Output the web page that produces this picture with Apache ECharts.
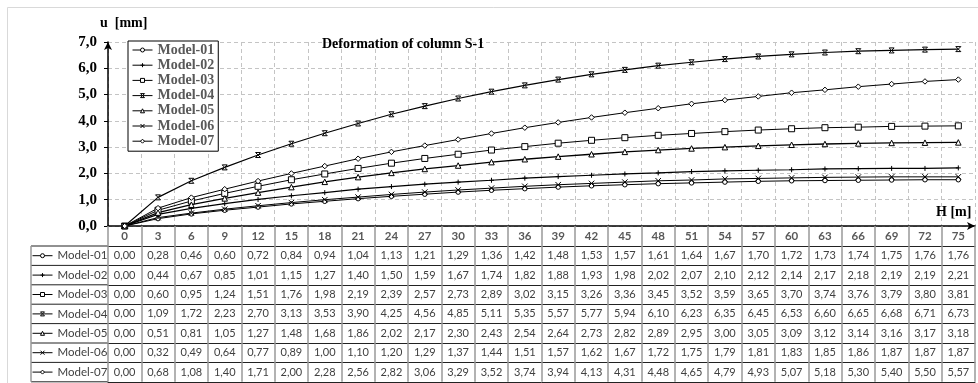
<!DOCTYPE html>
<html><head><meta charset="utf-8">
<script src="https://cdn.jsdelivr.net/npm/echarts@6/dist/echarts.min.js"></script>
<style>html,body{margin:0;padding:0;background:#fff}#c{width:978px;height:383px}</style>
</head><body><div id="c"></div>
<script>
// ---- data ----
const heights = [0,3,6,9,12,15,18,21,24,27,30,33,36,39,42,45,48,51,54,57,60,63,66,69,72,75];
const model01 = [0.00,0.28,0.46,0.60,0.72,0.84,0.94,1.04,1.13,1.21,1.29,1.36,1.42,1.48,1.53,1.57,1.61,1.64,1.67,1.70,1.72,1.73,1.74,1.75,1.76,1.76];
const model02 = [0.00,0.44,0.67,0.85,1.01,1.15,1.27,1.40,1.50,1.59,1.67,1.74,1.82,1.88,1.93,1.98,2.02,2.07,2.10,2.12,2.14,2.17,2.18,2.19,2.19,2.21];
const model03 = [0.00,0.60,0.95,1.24,1.51,1.76,1.98,2.19,2.39,2.57,2.73,2.89,3.02,3.15,3.26,3.36,3.45,3.52,3.59,3.65,3.70,3.74,3.76,3.79,3.80,3.81];
const model04 = [0.00,1.09,1.72,2.23,2.70,3.13,3.53,3.90,4.25,4.56,4.85,5.11,5.35,5.57,5.77,5.94,6.10,6.23,6.35,6.45,6.53,6.60,6.65,6.68,6.71,6.73];
const model05 = [0.00,0.51,0.81,1.05,1.27,1.48,1.68,1.86,2.02,2.17,2.30,2.43,2.54,2.64,2.73,2.82,2.89,2.95,3.00,3.05,3.09,3.12,3.14,3.16,3.17,3.18];
const model06 = [0.00,0.32,0.49,0.64,0.77,0.89,1.00,1.10,1.20,1.29,1.37,1.44,1.51,1.57,1.62,1.67,1.72,1.75,1.79,1.81,1.83,1.85,1.86,1.87,1.87,1.87];
const model07 = [0.00,0.68,1.08,1.40,1.71,2.00,2.28,2.56,2.82,3.06,3.29,3.52,3.74,3.94,4.13,4.31,4.48,4.65,4.79,4.93,5.07,5.18,5.30,5.40,5.50,5.57];
const names = ['Model-01','Model-02','Model-03','Model-04','Model-05','Model-06','Model-07'];
const values = [model01, model02, model03, model04, model05, model06, model07];
const yTicks = [0,1,2,3,4,5,6,7];

// ---- styles / layout ----
const symbols = ['circle','path://M0,5L10,5M5,0L5,10','rect','path://M0,0L10,0L0,10L10,10Z','triangle','path://M0,0L10,10M10,0L0,10','diamond'];
const symbolSizes = [4.5,5,6,5,5.5,5.5,5.5];
const lineWidths = [1,1.2,1,1.2,1.3,1,1];
const GRID_LEFT = 108, GRID_TOP = 42, GRID_W = 867, GRID_H = 184;
const HEAD_H = 20, ROW_H = 19.4, TABLE_LEFT = 31;
const SERIF = 'Liberation Serif';
const fmt2 = v => v.toFixed(2).replace('.', ',');
const fmt1 = v => v.toFixed(1).replace('.', ',');

const xAxes = [{
  type:'category', data: heights.map(String), gridIndex:0, position:'bottom', boundaryGap:true,
  axisLine:{show:true, lineStyle:{color:'#000', width:1.5}, symbol:['none','arrow'], symbolSize:[6,8]},
  axisTick:{show:true, interval:0, length:HEAD_H, lineStyle:{color:'#999', width:1.5}},
  axisLabel:{interval:0, margin:HEAD_H/2, verticalAlign:'middle', color:'#595959', fontFamily:'Lato', fontWeight:'bold', fontSize:11.5},
  splitLine:{show:true, interval:0, lineStyle:{color:'#c4c4c4', width:1, type:[4,3]}}
}];
values.forEach((row, k) => {
  xAxes.push({
    type:'category', data: heights.map(String), gridIndex:0, position:'bottom', boundaryGap:true,
    offset: HEAD_H + k*ROW_H,
    axisLine:{show:true, lineStyle:{color:'#222', width:1}},
    axisTick:{show:true, interval:0, length:ROW_H, lineStyle:{color:'#999', width:1.5}},
    axisLabel:{interval:0, margin:ROW_H/2, verticalAlign:'middle', color:'#404040', fontFamily:'Lato', fontSize:11,
      formatter:(v, i) => fmt2(row[i])},
    splitLine:{show:false}
  });
});
xAxes.push({
  type:'category', data: heights.map(String), gridIndex:0, position:'bottom',
  offset: HEAD_H + values.length*ROW_H,
  axisLine:{show:true, lineStyle:{color:'#222', width:1}},
  axisTick:{show:false}, axisLabel:{show:false}, splitLine:{show:false}
});

const tableTop = GRID_TOP + GRID_H + HEAD_H;
const graphic = [
  {type:'rect', silent:true, z:-10, shape:{x:7.5, y:7.5, width:1000, height:1000}, style:{fill:'none', stroke:'#d9d9d9', lineWidth:1}}
];
for (let k = 0; k <= values.length; k++) {
  graphic.push({type:'line', silent:true, shape:{x1:TABLE_LEFT, y1:tableTop + k*ROW_H, x2:GRID_LEFT, y2:tableTop + k*ROW_H}, style:{stroke:'#222', lineWidth:1}});
}
graphic.push({type:'line', silent:true, shape:{x1:TABLE_LEFT, y1:tableTop, x2:TABLE_LEFT, y2:tableTop + values.length*ROW_H}, style:{stroke:'#999', lineWidth:1.5}});

const series = values.map((row, k) => ({
  name:names[k], type:'line', data:row, xAxisIndex:0, yAxisIndex:0,
  symbol:symbols[k], symbolSize:symbolSizes[k], showAllSymbol:true, smooth:false,
  lineStyle:{color:'#000', width:lineWidths[k]},
  itemStyle:{color:'#fff', borderColor:'#000', borderWidth:1},
  emphasis:{disabled:true}
}));

const chart = echarts.init(document.getElementById('c'));
chart.setOption({
  animation:false,
  backgroundColor:'#fff',
  title:[
    {text:'Deformation of column S-1', left:322, top:37, padding:0, textStyle:{fontFamily:SERIF, fontWeight:'bold', fontSize:14, color:'#000'}},
    {text:'u  [mm]', left:100, top:16, padding:0, textStyle:{fontFamily:SERIF, fontWeight:'bold', fontSize:14, color:'#000'}},
    {text:'H [m]', left:936, top:205, padding:0, textStyle:{fontFamily:SERIF, fontWeight:'bold', fontSize:14, color:'#000'}}
  ],
  legend:[
    {data:names, orient:'vertical', left:128, top:41, padding:[2,4,3,4], itemWidth:20, itemHeight:5, itemGap:1.2,
     backgroundColor:'#fff', borderColor:'#000', borderWidth:1,
     lineStyle:{width:1}, itemStyle:{borderWidth:1},
     textStyle:{fontFamily:SERIF, fontWeight:'bold', fontSize:14, color:'#595959'}, z:10},
    {data:names, orient:'vertical', left:32, top:tableTop + (ROW_H-12)/2, padding:0, itemWidth:20, itemHeight:5, itemGap:ROW_H-12,
     lineStyle:{width:1}, itemStyle:{borderWidth:1},
     textStyle:{fontFamily:'Lato', fontSize:11.5, color:'#404040'}}
  ],
  grid:{left:GRID_LEFT, top:GRID_TOP, width:GRID_W, height:GRID_H, containLabel:false},
  xAxis:xAxes,
  yAxis:{type:'value', min:yTicks[0], max:yTicks[yTicks.length-1], interval:1,
    axisLine:{show:true, lineStyle:{color:'#000', width:1.5}, symbol:['none','arrow'], symbolSize:[6,8]},
    axisTick:{show:true, length:4, lineStyle:{color:'#000'}},
    axisLabel:{formatter:fmt1, fontFamily:SERIF, fontWeight:'bold', fontSize:15, color:'#000', margin:11},
    splitLine:{show:true, lineStyle:{color:'#c4c4c4', width:1, type:[4,3]}}
  },
  graphic:graphic,
  series:series
});
</script></body></html>
